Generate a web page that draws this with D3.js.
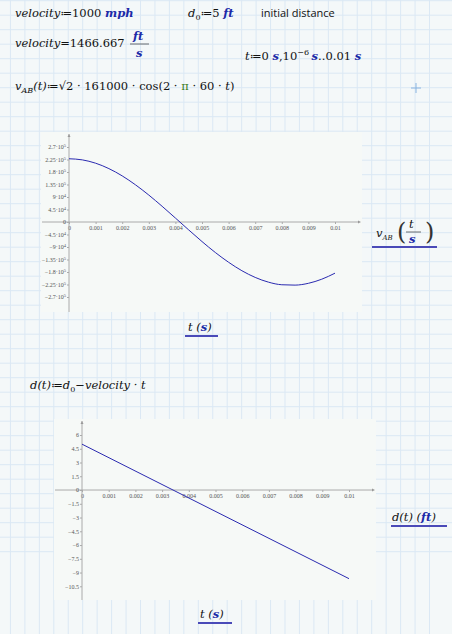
<!DOCTYPE html>
<html>
<head>
<meta charset="utf-8">
<script src="https://cdn.jsdelivr.net/npm/d3@7"></script>
<style>
body { margin: 0; background: #fff; }
svg { display: block; }
.m { font-family: "DejaVu Serif", "Liberation Serif", serif; font-style: italic; font-size: 11.5px; fill: #111; }
.u { fill: #1c2aa8; font-weight: bold; }
.n { font-style: normal; }
.tick text { font-family: "Liberation Serif", serif; font-size: 6px; fill: #555; }
.tick line, .domain { stroke: #aaa; }
</style>
</head>
<body>
<svg id="sheet" width="467" height="634"></svg>
<script>
var tSamples = [0, 0.0005, 0.001, 0.0015, 0.002, 0.0025, 0.003, 0.0035, 0.004, 0.0045, 0.005,
	0.0055, 0.006, 0.0065, 0.007, 0.0075, 0.008, 0.0085, 0.009, 0.0095, 0.01];
var vabValues = [227700, 223700, 211700, 192200, 166000, 133800, 97000, 56600, 14300, -28500, -70400,
	-109700, -145000, -175400, -199500, -216600, -225900, -227200, -220700, -206000, -184200];
var tLine = [0, 0.01];
var dValues = [5, -9.667];
var xTicks = [0, 0.001, 0.002, 0.003, 0.004, 0.005, 0.006, 0.007, 0.008, 0.009, 0.01];
var vTicks = [2.7e5, 2.25e5, 1.8e5, 1.35e5, 9e4, 4.5e4, 0, -4.5e4, -9e4, -1.35e5, -1.8e5, -2.25e5, -2.7e5];
var dTicks = [6, 4.5, 3, 1.5, 0, -1.5, -3, -4.5, -6, -7.5, -9, -10.5];

var svg = d3.select("#sheet");

// Worksheet grid.
svg.append("rect").attr("width", 452).attr("height", 634).attr("fill", "#f4f8f9");
var grid = svg.append("g").attr("stroke", "#dbe8f4").attr("stroke-width", 1);
d3.range(-4, 40).forEach(function (k) {
	var x = 371.7 - 14.45 * k;
	if (x > 0 && x < 452) grid.append("line").attr("x1", x).attr("x2", x).attr("y1", 0).attr("y2", 634);
	var y = 145.7 + 14.5 * (k - 11);
	if (y > 0 && y < 634) grid.append("line").attr("x1", 0).attr("x2", 452).attr("y1", y).attr("y2", y);
});

// Formula text.
function math(x, y, parts) {
	var t = svg.append("text").attr("class", "m").attr("x", x).attr("y", y);
	parts.forEach(function (p) {
		var s = t.append("tspan").text(p[0]);
		if (p[1]) s.attr("class", p[1]);
		if (p[2]) s.attr("dy", p[2]).style("font-size", p[3] || "8px");
	});
	return t;
}
math(15, 17, [["velocity"], ["≔1000 ", "n"], ["mph", "u"]]);
math(188, 17, [["d"], ["0", "n", 3], ["≔5 ", "n", -3, "11.5px"], ["ft", "u"]]);
svg.append("text").attr("x", 261).attr("y", 17).attr("font-family", "Open Sans, sans-serif")
	.attr("font-size", 11).attr("fill", "#111").text("initial distance");
math(15, 47, [["velocity"], ["=1466.667", "n"]]);
math(133, 40, [["ft", "u"]]);
svg.append("line").attr("x1", 130).attr("x2", 149).attr("y1", 44).attr("y2", 44).attr("stroke", "#111").attr("stroke-width", 0.6);
math(136, 57, [["s", "u"]]);
math(245, 60, [["t"], ["≔0 ", "n"], ["s", "u"], [",10", "n"], ["−6 ", "n", -5], ["s", "u", 5, "11.5px"], ["..0.01 ", "n"], ["s", "u"]]);
math(15, 90, [["v"], ["AB", "", 3], ["(t)", "", -3, "11.5px"], ["≔√2 · 161000 · cos(2 · ", "n"], ["π", "n"], [" · 60 · ", "n"], ["t", ""], [")", "n"]]);
svg.selectAll("tspan").filter(function () { return this.textContent == "π"; }).attr("fill", "#3a7a1a");
svg.append("path").attr("d", "M411,88h10M416,83v10").attr("stroke", "#8ab4e0");
math(30, 389, [["d"], ["(t)≔d", ""], ["0", "n", 3, "8px"], ["−velocity · t", "", -3, "11.5px"]]);

function supLabels(sel) {
	sel.selectAll(".tick text").each(function (d) {
		var t = d3.select(this).text("");
		if (d === 0) { t.text("0"); return; }
		var e = Math.floor(Math.log10(Math.abs(d)));
		t.append("tspan").text(d3.format("")(+(d / Math.pow(10, e)).toFixed(2)).replace("-", "−") + "·10");
		t.append("tspan").attr("dy", -2).style("font-size", "4.5px").text(e);
	});
}

function plot(o) {
	svg.append("rect").attr("x", o.px).attr("y", o.py).attr("width", o.pw).attr("height", o.ph).attr("fill", "#f6f9f7");
	var x = d3.scaleLinear().domain([0, 0.01]).range([o.x0, o.x1]);
	var y = d3.scaleLinear().domain(o.yDom).range([o.y0, o.y1]);
	var g = svg.append("g");
	var xa = g.append("g").attr("transform", "translate(0," + y(0) + ")")
		.call(d3.axisBottom(x).tickValues(xTicks).tickSize(2).tickFormat(function (d) { return d === 0 ? "0" : d3.format("")(+d.toFixed(3)); }));
	xa.select(".domain").attr("d", "M" + (o.xl) + ",0H" + o.xr);
	xa.selectAll(".tick text").attr("y", 4);
	xa.append("path").attr("d", "M" + o.xr + ",-1.5l3,1.5l-3,1.5z").attr("fill", "#999");
	var ya = g.append("g").attr("transform", "translate(" + x(0) + ",0)")
		.call(d3.axisLeft(y).tickValues(o.yTicks).tickSize(2).tickFormat(o.fmt));
	ya.select(".domain").attr("d", "M0," + o.yt + "V" + o.yb);
	ya.selectAll(".tick text").attr("x", -3);
	ya.append("path").attr("d", "M-1.5," + (o.yt + 3) + "l1.5,-3l1.5,3z").attr("fill", "#999");
	if (o.sup) supLabels(ya);
	var line = d3.line().x(function (d, i) { return x(o.tx[i]); }).y(function (d) { return y(d); }).curve(d3.curveMonotoneX);
	g.append("path").datum(o.vals).attr("d", line).attr("fill", "none").attr("stroke", "#2a2ab0").attr("stroke-width", 1);
}

plot({ px: 41, py: 132, pw: 321, ph: 180, x0: 69, x1: 335, xl: 42, xr: 358,
	yDom: [-2.7e5, 2.7e5], y0: 297, y1: 147, yt: 134, yb: 312, yTicks: vTicks, sup: true,
	fmt: function (d) { return d; }, tx: tSamples, vals: vabValues });
plot({ px: 54, py: 419, pw: 322, ph: 181, x0: 82, x1: 349, xl: 55, xr: 372,
	yDom: [-10.5, 6], y0: 586.3, y1: 435, yt: 421, yb: 600, yTicks: dTicks,
	fmt: function (d) { return String(d).replace("-", "−"); }, tx: tLine, vals: dValues });

// Axis labels.
function lbl(x, y, x1, x2, uy, parts) {
	math(x, y, parts);
	svg.append("line").attr("x1", x1).attr("x2", x2).attr("y1", uy).attr("y2", uy).attr("stroke", "#4a4ab8").attr("stroke-width", 2);
}
lbl(188, 331, 185, 218, 336, [["t  ("], ["s", "u"], [")", ""]]);
lbl(200, 618, 198, 232, 623, [["t  ("], ["s", "u"], [")", ""]]);
lbl(392, 521, 391, 447, 526, [["d(t)  ("], ["ft", "u"], [")", ""]]);
math(376, 237, [["v"], ["AB", "", 3, "7px"]]);
var paren = function (x, ch) {
	svg.append("text").attr("x", x).attr("y", 240).attr("font-family", "DejaVu Serif, serif")
		.attr("font-size", 24).attr("font-weight", 200).attr("fill", "#333").text(ch);
};
paren(397, "(");
paren(425, ")");
math(409, 228, [["t"]]);
svg.append("line").attr("x1", 406).attr("x2", 421).attr("y1", 232).attr("y2", 232).attr("stroke", "#111").attr("stroke-width", 0.6);
math(409, 243, [["s", "u"]]);
svg.append("line").attr("x1", 372).attr("x2", 437).attr("y1", 247).attr("y2", 247).attr("stroke", "#4a4ab8").attr("stroke-width", 2);
</script>
</body>
</html>
